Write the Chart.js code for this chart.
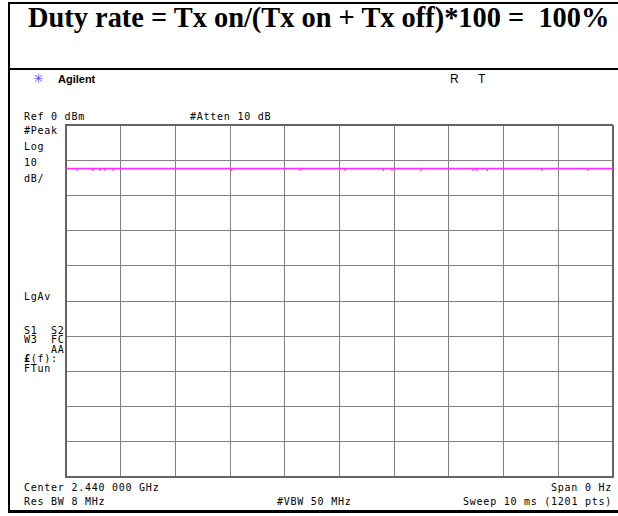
<!DOCTYPE html>
<html lang="en">
<head>
    <meta charset="UTF-8">
    <title>Duty rate 100%</title>
    <script src="https://cdn.jsdelivr.net/npm/chart.js"></script>
    <style>
        body { margin: 0; background: #fff; width: 618px; height: 516px; overflow: hidden; position: relative; }
        .rule { position: absolute; background: #000; }
        .txt { position: absolute; white-space: pre; color: #000; }
        .mono { font-family: "DejaVu Sans Mono", monospace; font-size: 10px; letter-spacing: 0.75px; line-height: 12px; }
        .title { font-family: "Liberation Serif", "Times New Roman", serif; font-weight: bold; font-size: 28.4px; line-height: 30px; }
        .sans { font-family: "Liberation Sans", Arial, sans-serif; font-size: 12px; line-height: 12px; }
        #plot { position: absolute; left: 60px; top: 119px; width: 558px; height: 364px; }
    </style>
</head>
<body>

    <!-- frame -->
    <div class="rule" style="left:8px; top:2px; width:610px; height:2px;"></div>
    <div class="rule" style="left:8px; top:2px; width:2px; height:511px;"></div>
    <div class="rule" style="left:8px; top:68px; width:610px; height:2px;"></div>
    <div class="rule" style="left:8px; top:510px; width:610px; height:3px;"></div>

    <div class="txt title" style="left:28px; top:3px;">Duty rate = Tx on/(Tx on + Tx off)*100 =  100%</div>

    <!-- analyzer header -->
    <div class="txt sans" style="left:33px; top:73px; color:#5050ff; font-size:13px;">&#10035;</div>
    <div class="txt sans" style="left:58px; top:73px; font-weight:bold; font-size:11px;">Agilent</div>
    <div class="txt sans" style="left:450px; top:73px;">R</div>
    <div class="txt sans" style="left:478px; top:73px;">T</div>

    <div class="txt mono" style="left:24px; top:111px;">Ref 0 dBm</div>
    <div class="txt mono" style="left:190px; top:111px;">#Atten 10 dB</div>
    <div class="txt mono" style="left:24px; top:125px;">#Peak</div>
    <div class="txt mono" style="left:24px; top:141px;">Log</div>
    <div class="txt mono" style="left:24px; top:157px;">10</div>
    <div class="txt mono" style="left:24px; top:173px;">dB/</div>
    <div class="txt mono" style="left:24px; top:291px;">LgAv</div>
    <div class="txt mono" style="left:24px; top:325px;">S1  S2</div>
    <div class="txt mono" style="left:24px; top:334px;">W3  FC</div>
    <div class="txt mono" style="left:24px; top:344px;">    AA</div>
    <div class="txt mono" style="left:24px; top:353px;"><b>&pound;</b>(f):</div>
    <div class="txt mono" style="left:24px; top:363px;">FTun</div>

    <div class="txt mono" style="left:24px; top:482px;">Center 2.440 000 GHz</div>
    <div class="txt mono" style="left:24px; top:496px;">Res BW 8 MHz</div>
    <div class="txt mono" style="left:277px; top:496px;">#VBW 50 MHz</div>
    <div class="txt mono" style="right:6px; top:482px;">Span 0 Hz</div>
    <div class="txt mono" style="right:6px; top:496px;">Sweep 10 ms (1201 pts)</div>

    <div id="plot"><canvas id="traceChart" width="558" height="364"></canvas></div>

    <script>
        // sweep time (ms) and measured level (dBm), zero span
        const sweepMs = [0, 0.5, 1, 1.5, 2, 2.5, 3, 3.5, 4, 4.5, 5, 5.5, 6, 6.5, 7, 7.5, 8, 8.5, 9, 9.5, 10];
        const traceDbm = [-12.4, -12.4, -12.4, -12.4, -12.4, -12.4, -12.4, -12.4, -12.4, -12.4, -12.4,
                          -12.4, -12.4, -12.4, -12.4, -12.4, -12.4, -12.4, -12.4, -12.4, -12.4];

        // small dips below the trace
        const dipMs = [0.20, 0.49, 0.62, 0.71, 0.86, 3.03, 4.28, 5.10, 5.80, 5.96, 6.49, 7.44, 7.50, 7.70, 8.70, 9.54];
        const dipDbm = [-12.8, -12.8, -12.8, -12.8, -12.8, -12.8, -12.8, -12.8, -12.8, -12.8, -12.9, -12.8, -12.8, -12.9, -12.8, -12.8];

        const refLevel = 0;
        const dbPerDiv = 10;

        const traceColor = "#ff30ff";
        const gridColor = "#828282";
        const edgeColor = "#646464";

        function gridStyle(ctx, lastIndex) {
            return ctx.index === lastIndex ? edgeColor : gridColor;
        }

        new Chart(document.getElementById("traceChart").getContext("2d"), {
            type: "scatter",
            data: {
                datasets: [{
                    data: sweepMs.map((t, i) => ({ x: t, y: traceDbm[i] })),
                    showLine: true,
                    borderColor: traceColor,
                    borderWidth: 1.6,
                    pointRadius: 0,
                    tension: 0
                }, {
                    data: dipMs.map((t, i) => ({ x: t, y: dipDbm[i] })),
                    showLine: false,
                    pointStyle: "rect",
                    pointRadius: 1,
                    borderWidth: 0,
                    backgroundColor: "#ff00ff"
                }]
            },
            options: {
                responsive: false,
                animation: false,
                layout: { padding: { left: 6, top: 6, right: 5, bottom: 6 } },
                plugins: { legend: { display: false }, tooltip: { enabled: false } },
                scales: {
                    x: {
                        type: "linear",
                        min: 0,
                        max: 10,
                        ticks: { display: false, stepSize: 1 },
                        grid: {
                            drawTicks: false,
                            color: ctx => gridStyle(ctx, 10),
                            lineWidth: ctx => ctx.index === 10 ? 2 : 1
                        },
                        border: { color: edgeColor, width: 2 }
                    },
                    y: {
                        min: refLevel - 10 * dbPerDiv,
                        max: refLevel,
                        ticks: { display: false, stepSize: dbPerDiv },
                        grid: {
                            drawTicks: false,
                            color: ctx => gridStyle(ctx, 10),
                            lineWidth: ctx => ctx.index === 10 ? 2 : 1
                        },
                        border: { color: edgeColor, width: 2 }
                    }
                }
            }
        });
    </script>

</body>
</html>
